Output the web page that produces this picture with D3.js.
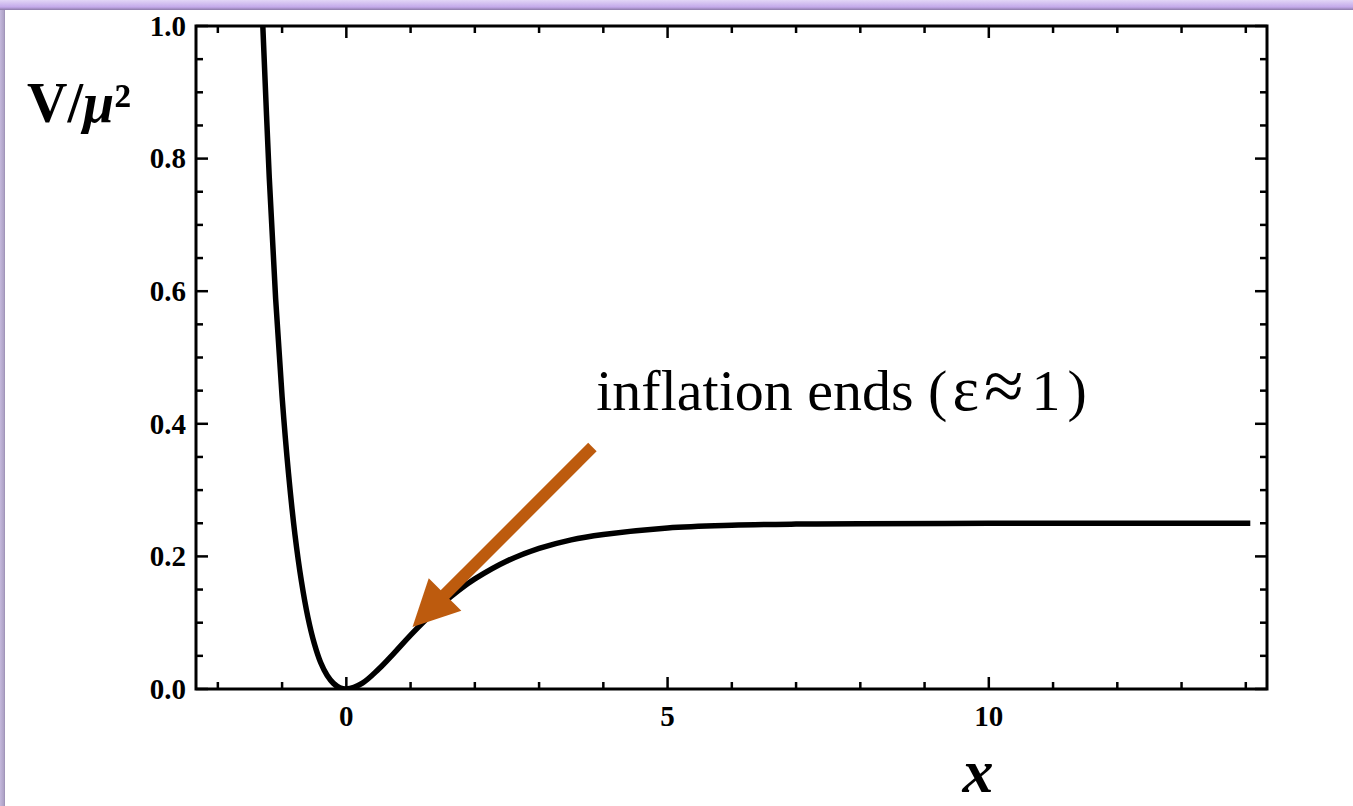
<!DOCTYPE html>
<html>
<head>
<meta charset="utf-8">
<script src="https://cdn.jsdelivr.net/npm/d3@7"></script>
<style>
  body { margin: 0; background: #fff; }
  svg { display: block; }
</style>
</head>
<body>
<script>
// potential: x and V/mu^2
var xs = [-1.34, -1.3, -1.2, -1.1, -1.0, -0.9, -0.8, -0.7, -0.6, -0.5, -0.4, -0.3, -0.2, -0.1, 0,
  0.25, 0.5, 0.75, 1.0, 1.25, 1.5, 1.75, 2.0, 2.5, 3.0, 3.5, 4.0, 5.0, 6.0, 7.0, 8.0, 10.0, 12.0, 14.07];
var vs = [1.08, 1.0, 0.772, 0.588, 0.441, 0.325, 0.233, 0.163, 0.109, 0.069, 0.040, 0.0208, 0.0085, 0.0019, 0,
  0.009, 0.0298, 0.055, 0.0813, 0.106, 0.129, 0.149, 0.166, 0.193, 0.212, 0.225, 0.233, 0.243, 0.247, 0.2487, 0.2494, 0.2499, 0.25, 0.25];

var xMajor = [0, 5, 10];
var xMinor = d3.range(-2, 15, 1);
var yMajor = [0, 0.2, 0.4, 0.6, 0.8, 1.0];
var yMinor = d3.range(0, 1.0001, 0.05);

// annotation arrow (data coords): tail, tip
var arrowFrom = [3.83, 0.365];
var arrowTo = [1.03, 0.0935];
var notePos = [3.89, 0.421];
// annotation pieces: text, extra spacing before it, size
var noteParts = [
  ['inflation ends (', 0, 58],
  ['\u03b5', 5, 63],
  ['\u2248', 5, 72],
  ['1', 8, 58],
  [')', 7, 58]
];

var width = 1353;
var height = 806;
// plot frame edges (note: "top" is reserved on window)
var pLeft = 196, pRight = 1267, pTop = 26, pBottom = 689;

var svg = d3.select('body').append('svg')
  .attr('width', width)
  .attr('height', height);

var defs = svg.append('defs');
var topGrad = defs.append('linearGradient').attr('id', 'topbar')
  .attr('x1', 0).attr('y1', 0).attr('x2', 0).attr('y2', 1);
topGrad.append('stop').attr('offset', '0%').attr('stop-color', '#e2d6f6');
topGrad.append('stop').attr('offset', '70%').attr('stop-color', '#c3a9ea');
topGrad.append('stop').attr('offset', '100%').attr('stop-color', '#8c7aa8');
var sideGrad = defs.append('linearGradient').attr('id', 'sidebar')
  .attr('x1', 0).attr('y1', 0).attr('x2', 1).attr('y2', 0);
sideGrad.append('stop').attr('offset', '0%').attr('stop-color', '#c4b8dc');
sideGrad.append('stop').attr('offset', '70%').attr('stop-color', '#b0a4c8');
sideGrad.append('stop').attr('offset', '100%').attr('stop-color', '#9a8eb2');

// window chrome
svg.append('rect').attr('x', 0).attr('y', 0).attr('width', 5).attr('height', height)
  .attr('fill', 'url(#sidebar)');
svg.append('rect').attr('x', 0).attr('y', 0).attr('width', width).attr('height', 10)
  .attr('fill', 'url(#topbar)');

var x = d3.scaleLinear().domain([-2.34, 14.33]).range([pLeft, pRight]);
var y = d3.scaleLinear().domain([0, 1]).range([pBottom, pTop]);

defs.append('clipPath').attr('id', 'plotclip')
  .append('rect').attr('x', pLeft).attr('y', pTop)
  .attr('width', pRight - pLeft).attr('height', pBottom - pTop);

var pts = xs.map(function(d, i) { return [d, vs[i]]; });
var line = d3.line()
  .x(function(d) { return x(d[0]); })
  .y(function(d) { return y(d[1]); })
  .curve(d3.curveCatmullRom.alpha(0.5));

svg.append('path')
  .datum(pts)
  .attr('clip-path', 'url(#plotclip)')
  .attr('d', line)
  .attr('fill', 'none')
  .attr('stroke', '#000')
  .attr('stroke-width', 5.5)
  .attr('stroke-linejoin', 'round');

// frame ticks (inward on all four sides)
var tk = svg.append('g').attr('stroke', '#000').attr('stroke-width', 2.5);
function isMajor(arr, v) {
  return arr.some(function(m) { return Math.abs(m - v) < 1e-6; });
}
xMinor.forEach(function(v) {
  var len = isMajor(xMajor, v) ? 12 : 7;
  tk.append('line').attr('x1', x(v)).attr('x2', x(v)).attr('y1', pBottom).attr('y2', pBottom - len);
  tk.append('line').attr('x1', x(v)).attr('x2', x(v)).attr('y1', pTop).attr('y2', pTop + len);
});
yMinor.forEach(function(v) {
  var len = isMajor(yMajor, v) ? 12 : 7;
  tk.append('line').attr('y1', y(v)).attr('y2', y(v)).attr('x1', pLeft).attr('x2', pLeft + len);
  tk.append('line').attr('y1', y(v)).attr('y2', y(v)).attr('x1', pRight).attr('x2', pRight - len);
});

svg.append('rect')
  .attr('x', pLeft).attr('y', pTop)
  .attr('width', pRight - pLeft).attr('height', pBottom - pTop)
  .attr('fill', 'none')
  .attr('stroke', '#000')
  .attr('stroke-width', 3);

// tick labels
var font = '"Liberation Serif", "Times New Roman", serif';
svg.append('g').selectAll('text')
  .data(xMajor)
  .enter().append('text')
  .attr('x', function(d) { return x(d); })
  .attr('y', 726)
  .attr('text-anchor', 'middle')
  .attr('font-family', font)
  .attr('font-weight', 'bold')
  .attr('font-size', 29)
  .text(function(d) { return d; });

svg.append('g').selectAll('text')
  .data(yMajor)
  .enter().append('text')
  .attr('x', 186)
  .attr('y', function(d) { return y(d); })
  .attr('dy', '0.34em')
  .attr('text-anchor', 'end')
  .attr('font-family', font)
  .attr('font-weight', 'bold')
  .attr('font-size', 29)
  .text(function(d) { return d3.format('.1f')(d); });

// axis labels
var yl = svg.append('text')
  .attr('x', 27).attr('y', 122)
  .attr('font-family', font)
  .attr('font-weight', 'bold')
  .attr('font-size', 56);
yl.append('tspan').text('V/');
yl.append('tspan').attr('font-style', 'italic').text('\u03bc');
yl.append('tspan').text('\u00b2');

svg.append('text')
  .attr('x', 978).attr('y', 792)
  .attr('text-anchor', 'middle')
  .attr('font-family', font)
  .attr('font-weight', 'bold')
  .attr('font-style', 'italic')
  .attr('font-size', 62)
  .text('x');

// annotation
var note = svg.append('text')
  .attr('x', x(notePos[0])).attr('y', y(notePos[1]))
  .attr('font-family', font)
  .attr('fill', '#000');
noteParts.forEach(function(p) {
  note.append('tspan')
    .attr('dx', p[1])
    .attr('font-size', p[2])
    .text(p[0]);
});

var orange = '#bd5b0e';
var ax0 = x(arrowFrom[0]), ay0 = y(arrowFrom[1]);
var ax1 = x(arrowTo[0]), ay1 = y(arrowTo[1]);
var ang = Math.atan2(ay1 - ay0, ax1 - ax0);
var headLen = 46, headHalf = 23;
var bx = ax1 - headLen * Math.cos(ang), by = ay1 - headLen * Math.sin(ang);
svg.append('line')
  .attr('x1', ax0).attr('y1', ay0)
  .attr('x2', bx + 4 * Math.cos(ang)).attr('y2', by + 4 * Math.sin(ang))
  .attr('stroke', orange)
  .attr('stroke-width', 12);
svg.append('path')
  .attr('d', 'M' + ax1 + ',' + ay1 +
    'L' + (bx - headHalf * Math.sin(ang)) + ',' + (by + headHalf * Math.cos(ang)) +
    'L' + (bx + headHalf * Math.sin(ang)) + ',' + (by - headHalf * Math.cos(ang)) + 'Z')
  .attr('fill', orange);
</script>
</body>
</html>
